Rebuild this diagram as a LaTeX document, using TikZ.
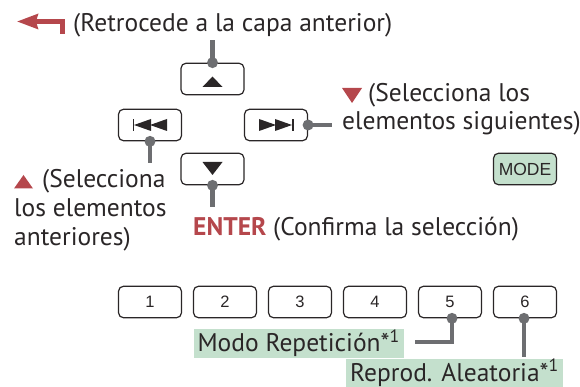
\documentclass[tikz,border=0pt]{standalone}
\usepackage{fontspec}
\setmainfont{PT Sans}
\newfontfamily\arialfont{Liberation Sans}
\definecolor{accred}{HTML}{B5474C}
\definecolor{conngray}{HTML}{6D6E71}
\definecolor{lblgreen}{HTML}{C4E0CD}
\definecolor{txtgray}{HTML}{2A2627}
\begin{document}
\begin{tikzpicture}[x=1pt,y=-1pt,
  key/.style={draw=txtgray, line width=1.2pt, rounded corners=5pt, minimum width=63pt, minimum height=31.5pt, inner sep=0pt, text=txtgray, font=\arialfont\fontsize{16.5}{16.5}\selectfont},
  lbl/.style={font=\fontsize{25.5}{28}\selectfont, inner sep=0pt, anchor=base west, text=txtgray},
  glbl/.style={lbl, fill=lblgreen, inner xsep=4pt, inner ysep=0pt, text height=22.5pt, text depth=6.6pt},
  conn/.style={draw=conngray, line width=4.5pt},
  cdot/.style={fill=conngray}
]
\useasboundingbox (0,0) rectangle (580,387);

% keys
\node[key] (up) at (212.5,79) {};
\node[key] (prev) at (150,125) {};
\node[key] (next) at (276,125) {};
\node[key] (down) at (212.5,169) {};
\node[key, fill=lblgreen, font=\arialfont\fontsize{17.5}{17.5}\selectfont] (mode) at (525,169) {MODE};
\foreach \i/\x in {1/150,2/225,3/300,4/375,5/450,6/525}
  \node[key] (k\i) at (\x,302) {\i};

% key icons
\fill[txtgray, shift={(up.center)}] (-10,8) -- (10,8) -- (0,-2.5) -- cycle;
\fill[txtgray, shift={(down.center)}] (-10,-7) -- (10,-7) -- (0,6) -- cycle;
\begin{scope}[shift={(prev.center)}]
  \fill[txtgray] (-17.5,-6) rectangle (-16,6);
  \fill[txtgray] (-16,0) -- (1,-6) -- (1,6) -- cycle;
  \fill[txtgray] (0,0) -- (17,-6) -- (17,6) -- cycle;
\end{scope}
\begin{scope}[shift={(next.center)}]
  \fill[txtgray] (16,-6) rectangle (17.8,6);
  \fill[txtgray] (16,0) -- (-1,-6) -- (-1,6) -- cycle;
  \fill[txtgray] (0,0) -- (-17,-6) -- (-17,6) -- cycle;
\end{scope}

% back arrow
\coordinate (backend) at (62.5,34);
\coordinate (backtip) at (17.3,21.5);
\draw[accred, line width=5pt] (backend) -- (62.5,21.5) -- (36,21.5);
\fill[accred] (backtip) -- (38.5,13.5) -- (36,21.5) -- (38.5,29.5) -- cycle;

% labels
\node[lbl] (tback) at (73,32) {(Retrocede a la capa anterior)};
\fill[accred] (342,88) -- (362,88) -- (352,103) -- cycle;
\node[lbl] (tnext1) at (368,102) {(Selecciona los};
\node[lbl] (tnext2) at (342,130) {elementos siguientes)};
\fill[accred] (14,188.5) -- (33,188.5) -- (23.5,175) -- cycle;
\node[lbl] (tprev1) at (42,188) {(Selecciona};
\node[lbl] (tprev2) at (14,217) {los elementos};
\node[lbl] (tprev3) at (14,245) {anteriores)};
\node[lbl] (tenter) at (193,236) {\textcolor{accred}{\bfseries ENTER} (Confirma la selección)};
\node[glbl] (trep) at (193.3,351.7) {Modo Repetición*\textsuperscript{1}};
\node[glbl, text depth=6pt] (trand) at (346,381) {Reprod. Aleatoria*\textsuperscript{1}};

% connectors
\coordinate (cup) at (212.5,40);
\coordinate (cprev) at (150,163);
\coordinate (cnext) at (332,125);
\coordinate (cdown) at (212.5,207);
\coordinate (c5bend) at ([xshift=2pt]k5.south |- 0,342);
\coordinate (c5) at (415,342);
\coordinate (c6) at (524,357);

\draw[conn] (up.north) -- (cup);
\fill[cdot] (up.north) circle (5.5);
\draw[conn] (prev.south) -- (cprev);
\fill[cdot] (prev.south) circle (5.5);
\draw[conn] (next.east) -- (cnext);
\fill[cdot] (next.east) circle (5.5);
\draw[conn] (down.south) -- (cdown);
\fill[cdot] (down.south) circle (5.5);
\draw[conn] ([xshift=2pt]k5.south) -- (c5bend) -- (c5);
\fill[cdot] ([xshift=2pt]k5.south) circle (5.5);
\draw[conn] ([xshift=-1pt]k6.south) -- (c6);
\fill[cdot] ([xshift=-1pt]k6.south) circle (5.5);
\end{tikzpicture}
\end{document}
